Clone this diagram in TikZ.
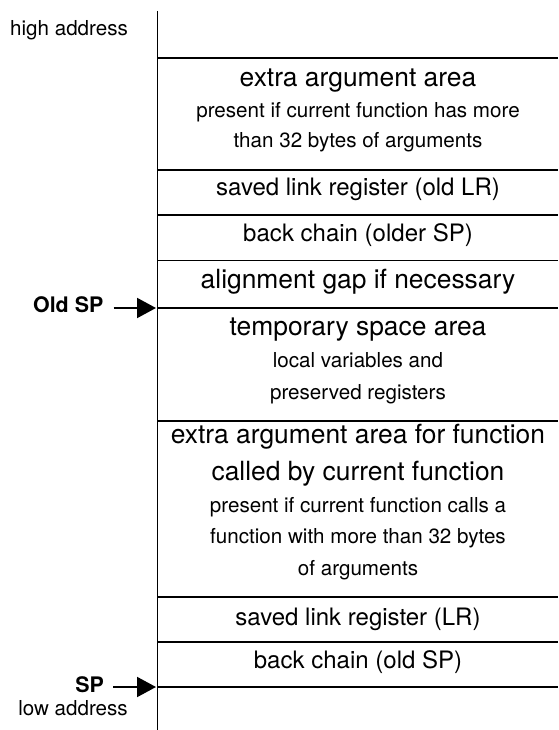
\documentclass[tikz,border=0pt]{standalone}
\usepackage{fontspec}
\setmainfont{TeX Gyre Heros}
\usetikzlibrary{arrows.meta}
\begin{document}
\begin{tikzpicture}[x=1pt,y=-1pt,
  sm/.style={font=\fontsize{20.6}{24}\selectfont, anchor=base, inner sep=0pt},
  md/.style={font=\fontsize{24}{28}\selectfont, anchor=base, inner sep=0pt},
  lg/.style={font=\fontsize{26.4}{30}\selectfont, anchor=base, inner sep=0pt},
  bd/.style={font=\fontsize{21.4}{24}\selectfont\bfseries, anchor=base east, inner sep=0pt},
  rule/.style={line width=1.5pt},
  ptr/.style={line width=2pt,-{Triangle[length=19pt,width=20pt]}}]
\useasboundingbox (0,0) rectangle (558,730);
% axis
\coordinate (top) at (157.5,11);
\coordinate (bot) at (157.5,730);
\draw[rule] (top) -- (bot);
% horizontal rules
\foreach \k/\y in {1/58,2/170,3/215,4/260.5,5/308,6/421,7/597,8/642,9/687}{
  \coordinate (L\k) at (157.5,\y);
  \coordinate (R\k) at (558,\y);
  \draw[rule] (L\k) -- (R\k);
}
% box texts
\node[lg] (t1a) at (358,86.7) {extra argument area};
\node[sm] (t1b) at (358,118) {present if current function has more};
\node[sm] (t1c) at (358,148) {than 32 bytes of arguments};
\node[md] (t2) at (358,195) {saved link register (old LR)};
\node[md] (t3) at (358,241.5) {back chain (older SP)};
\node[lg] (t4) at (358,288) {alignment gap if necessary};
\node[lg] (t5a) at (358,335) {temporary space area};
\node[sm] (t5b) at (358,367) {local variables and};
\node[sm] (t5c) at (358,399) {preserved registers};
\node[lg] (t6a) at (358,443) {extra argument area for function};
\node[lg] (t6b) at (358,480) {called by current function};
\node[sm] (t6c) at (358,512) {present if current function calls a};
\node[sm] (t6d) at (358,543) {function with more than 32 bytes};
\node[sm] (t6e) at (358,575) {of arguments};
\node[md] (t7) at (358,625) {saved link register (LR)};
\node[md] (t8) at (358,668) {back chain (old SP)};
% left labels
\node[sm] (high) at (69,36) {high address};
\node[bd] (oldsp) at (103.5,312) {Old SP};
\node[bd] (sp) at (104,692) {SP};
\node[sm] (low) at (73,715) {low address};
\draw[ptr] ([xshift=10pt]oldsp.east |- L5) -- ([xshift=-1.5pt]L5);
\draw[ptr] ([xshift=9pt]sp.east |- L9) -- ([xshift=-1.5pt]L9);
\end{tikzpicture}
\end{document}
